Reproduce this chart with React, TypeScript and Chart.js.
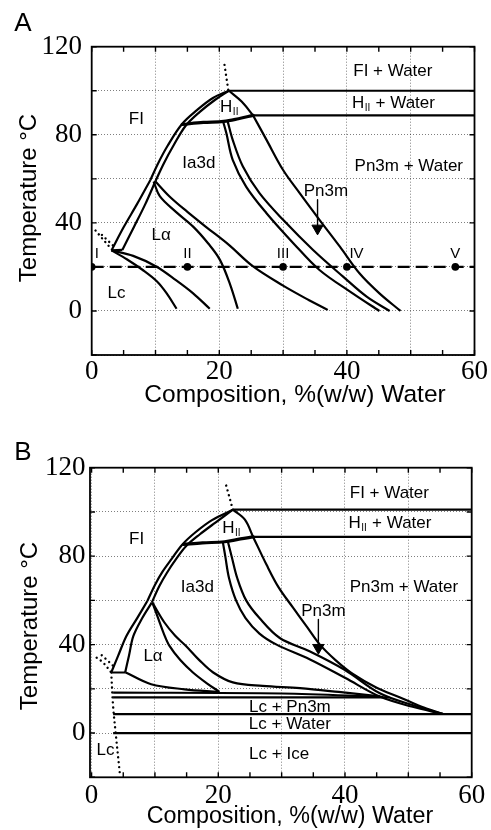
import React, { useEffect, useRef } from "react";
import { Chart, registerables } from "chart.js";

Chart.register(...registerables);

type Pt = [number, number];

// ---------- shared axes ----------
const X_GRID = [0, 10, 20, 30, 40, 50, 60];
const X_TICK_LABELS = [0, 20, 40, 60];
const X_MINOR_TICKS = [0, 5, 10, 15, 20, 25, 30, 35, 40, 45, 50, 55, 60];
const Y_GRID = [-20, 0, 20, 40, 60, 80, 100, 120];
const Y_TICK_LABELS = [0, 40, 80, 120];
const X_TITLE = "Composition, %(w/w) Water";
const Y_TITLE = "Temperature °C";

// ---------- Panel A ----------
const A_FI_WATER_TIE: Pt[] = [[21.5, 100], [60, 100]];
const A_HII_WATER_TIE: Pt[] = [[25.3, 88.8], [60, 88.8]];
const A_FI_BOUND_1: Pt[] = [[9.2, 59.5], [10.4, 67], [11.9, 75], [14.1, 84.7], [16.5, 91.2], [19, 96.7], [21.5, 100]];
const A_FI_BOUND_2: Pt[] = [[10.0, 59], [11.3, 67], [12.8, 75], [14.7, 84], [16.9, 90.3], [19.3, 95.8], [21.5, 100]];
const A_LA_LEFT_1: Pt[] = [[3.1, 27.5], [5.0, 38], [7.1, 48.5], [9.2, 59.5]];
const A_LA_LEFT_2: Pt[] = [[4.8, 27.7], [6.6, 38], [8.4, 48.5], [10.0, 59]];
const A_LA_BASE: Pt[] = [[3.1, 27.5], [4.8, 27.7]];
const A_IA3D_TOP: Pt[] = [[14.2, 84.7], [17.5, 85.6], [20.7, 86.1], [23, 87.3], [25.3, 88.8]];
const A_HII_EDGE: Pt[] = [[21.5, 100], [23.5, 95.1], [25.3, 88.8]];
const A_PN3M_EDGE: Pt[] = [[25.3, 88.8], [27.4, 77.7], [30, 64], [32.6, 53.5], [35.7, 41.4], [38.9, 29.2], [42, 17], [45.1, 8], [48.4, 0]];
const A_PN3M_IN_1: Pt[] = [[20.6, 86], [21.1, 80.8], [22.1, 68.6], [24.2, 56.5], [27.4, 44.4], [31.6, 30.8], [35.7, 18.6], [40.9, 8], [45.1, 0]];
const A_PN3M_IN_2: Pt[] = [[21.3, 86.2], [22.1, 77.7], [23.7, 65.6], [26.3, 53.5], [30, 41.4], [34.7, 27.7], [39.4, 15.6], [43.1, 6.5], [46.7, 0]];
const A_LA_IA3D_1: Pt[] = [[9.7, 58.8], [10.7, 52], [13.2, 45], [15.9, 38.3], [18.3, 30.5], [20.1, 23.2], [21.7, 12], [22.9, 1]];
const A_LA_IA3D_2: Pt[] = [[10.0, 58.8], [12.2, 52], [15, 45], [18, 38], [21.5, 30], [25.3, 20.2], [30, 11.5], [34, 5], [37, 0.5]];
const A_LC_1: Pt[] = [[3.1, 27.5], [5.5, 23.5], [8, 18.6], [10.2, 13.5], [11.7, 8.2], [13.3, 1]];
const A_LC_2: Pt[] = [[3.1, 27.5], [6.5, 25], [10.1, 20.2], [13.2, 14], [15.9, 8], [18.5, 1]];
const A_DOT_1: Pt[] = [[0.6, 36.5], [3.1, 28]];
const A_DOT_2: Pt[] = [[1.6, 34.5], [3.6, 29]];
const A_DOT_TOP: Pt[] = [[21.4, 100.5], [20.8, 112]];
const A_SAMPLE_LINE: Pt[] = [[0, 20], [60, 20]];
const A_SAMPLE_X = [0, 15, 30, 40, 57];
const A_SAMPLE_T = 20;
const A_SAMPLE_NAMES = ["I", "II", "III", "IV", "V"];
const A_SAMPLE_LABEL_X = [0.8, 15, 30, 41.5, 57];
const A_SAMPLE_LABEL_Y = 26;
const A_ARROW: Pt[] = [[35.4, 50.5], [35.4, 38.5]];
const A_ARROW_HEAD: Pt = [35.4, 37.5];

// ---------- Panel B ----------
const B_FI_WATER_TIE: Pt[] = [[22.3, 101], [60, 101]];
const B_HII_WATER_TIE: Pt[] = [[25.5, 88.7], [60, 88.7]];
const B_FI_BOUND_1: Pt[] = [[8.8, 59.7], [10.0, 67], [11.2, 73], [12.7, 79], [14.3, 85.2], [16.4, 90.8], [19, 96.3], [22.3, 101]];
const B_FI_BOUND_2: Pt[] = [[9.5, 59], [10.7, 66.5], [11.9, 72.5], [13.3, 78.5], [14.9, 84.5], [17.1, 89.9], [19.6, 95.3], [22.3, 101]];
const B_LA_LEFT_1: Pt[] = [[3.1, 27.4], [4.2, 35], [5.5, 43.9], [7.2, 52], [8.8, 59.7]];
const B_LA_LEFT_2: Pt[] = [[5.3, 27.4], [5.9, 35], [6.6, 43.9], [8.0, 52], [9.5, 59]];
const B_LA_BASE: Pt[] = [[3.1, 27.4], [5.4, 27.4]];
const B_LA_LOWER: Pt[] = [[5.4, 27.4], [9.4, 22.1], [14.7, 19.8], [20, 18.6]];
const B_IA3D_TOP: Pt[] = [[14.5, 85.3], [17.5, 86], [21, 86.5], [23.5, 87.8], [25.5, 88.7]];
const B_HII_EDGE: Pt[] = [[22.3, 101], [24.2, 96.5], [25.5, 88.7]];
const B_PN3M_EDGE: Pt[] = [[25.5, 88.7], [27.6, 76.2], [29.5, 66], [31.8, 56.7], [34, 48], [36, 40.1], [38.5, 33], [41.3, 26.6], [45, 20.5], [48.7, 16.1], [52, 12], [55.5, 8.6]];
const B_PN3M_IN_1: Pt[] = [[20.7, 86.7], [21.1, 80], [21.7, 70], [22.8, 60], [24.3, 52], [26.5, 45], [29.2, 40], [34.4, 33.4], [40, 25], [45.5, 16.5], [50.5, 12], [55.5, 8.6]];
const B_PN3M_IN_2: Pt[] = [[21.5, 86.7], [22.1, 80], [23, 70], [24.4, 60], [26.5, 52], [29.7, 43], [34.4, 37], [40, 28.5], [45.5, 18], [50.5, 12.8], [55.5, 8.6]];
const B_LA_IA3D_1: Pt[] = [[9.6, 59], [10.5, 52], [11.4, 45], [12.3, 39.4], [14, 33], [16, 27.4], [18.2, 22.5], [20.2, 18.6]];
const B_LA_IA3D_2: Pt[] = [[9.6, 59], [11.5, 50], [13.2, 44], [14.9, 39.4], [17, 33], [19.2, 27.4], [22.3, 22.9], [27, 21.3], [32.9, 20.3], [39, 18.6], [45.5, 16.6]];
const B_LC_PN3M_TOP: Pt[] = [[3.4, 18.3], [30, 17.9], [46, 16.3]];
const B_LC_PN3M_BOT: Pt[] = [[3.4, 16.1], [47, 16.1]];
const B_LC_WATER: Pt[] = [[3.4, 8.6], [60, 8.6]];
const B_LC_ICE: Pt[] = [[3.4, 0], [60, 0]];
const B_DOT_LC: Pt[] = [[3.1, 27.4], [3.4, 12], [3.8, 0], [4.5, -19.5]];
const B_DOT_1: Pt[] = [[0.8, 34.1], [1.8, 31.9], [3.1, 27.4]];
const B_DOT_2: Pt[] = [[1.6, 35.2], [2.6, 32.6], [3.4, 30.4]];
const B_DOT_TOP: Pt[] = [[22.3, 101], [21.1, 113.5]];
const B_ARROW: Pt[] = [[35.8, 51.4], [35.8, 40]];
const B_ARROW_HEAD: Pt = [35.8, 38.6];

type TextItem = { t: string; sub?: string; tail?: string; x: number; y: number };

const A_TEXTS: TextItem[] = [
  { t: "FI + Water", x: 47.2, y: 108.8 },
  { t: "H", sub: "II", tail: " + Water", x: 47.3, y: 94.5 },
  { t: "FI", x: 7.0, y: 87.2 },
  { t: "H", sub: "II", x: 21.6, y: 92.7 },
  { t: "Ia3d", x: 16.8, y: 67.1 },
  { t: "Pn3m + Water", x: 49.7, y: 65.6 },
  { t: "Pn3m", x: 36.7, y: 54.2 },
  { t: "Lα", x: 10.9, y: 34.5 },
  { t: "Lc", x: 3.9, y: 8 },
];

const B_TEXTS: TextItem[] = [
  { t: "FI + Water", x: 47.0, y: 108.6 },
  { t: "H", sub: "II", tail: " + Water", x: 47.1, y: 94.7 },
  { t: "FI", x: 7.1, y: 87.5 },
  { t: "H", sub: "II", x: 22.1, y: 92.8 },
  { t: "Ia3d", x: 16.7, y: 66.1 },
  { t: "Pn3m + Water", x: 49.3, y: 66.1 },
  { t: "Pn3m", x: 36.6, y: 55.2 },
  { t: "Lα", x: 9.7, y: 34.5 },
  { t: "Lc + Pn3m", x: 31.3, y: 11.6 },
  { t: "Lc + Water", x: 31.3, y: 4.1 },
  { t: "Lc + Ice", x: 29.6, y: -9.5 },
  { t: "Lc", x: 2.2, y: -7.8 },
];

type Kind = "line" | "thick" | "dot" | "dash" | "thin";

const SANS = '"Liberation Sans", Arial, Helvetica, sans-serif';
const SERIF = '"Liberation Serif", "Times New Roman", serif';

const STYLES: Record<Kind, any> = {
  line: { borderWidth: 2.2, borderDash: [], borderCapStyle: "butt" },
  thick: { borderWidth: 3.2, borderDash: [], borderCapStyle: "round" },
  thin: { borderWidth: 1.4, borderDash: [], borderCapStyle: "butt" },
  dot: { borderWidth: 2.4, borderDash: [0.01, 5], borderCapStyle: "round" },
  dash: { borderWidth: 2.2, borderDash: [12, 6], borderCapStyle: "butt" },
};

interface PanelSpec {
  letter: string;
  xMin: number;
  area: { left: number; top: number; right: number; bottom: number };
  lines: { pts: Pt[]; kind: Kind }[];
  markers: Pt[];
  arrowHead: Pt;
  texts: TextItem[];
  numerals: TextItem[];
  xTitle: { x: number; y: number; size: number };
  yTitle: { x: number; y: number; size: number };
  letterPos: { x: number; y: number };
  xTickPad: number;
  yTickPad: number;
}

const PANEL_A: PanelSpec = {
  letter: "A",
  xMin: 0,
  area: { left: 91.7, top: 46.7, right: 475, bottom: 355 },
  lines: [
    { pts: A_FI_WATER_TIE, kind: "line" },
    { pts: A_HII_WATER_TIE, kind: "line" },
    { pts: A_FI_BOUND_1, kind: "line" },
    { pts: A_FI_BOUND_2, kind: "line" },
    { pts: A_LA_LEFT_1, kind: "line" },
    { pts: A_LA_LEFT_2, kind: "line" },
    { pts: A_LA_BASE, kind: "line" },
    { pts: A_IA3D_TOP, kind: "thick" },
    { pts: A_HII_EDGE, kind: "line" },
    { pts: A_PN3M_EDGE, kind: "line" },
    { pts: A_PN3M_IN_1, kind: "line" },
    { pts: A_PN3M_IN_2, kind: "line" },
    { pts: A_LA_IA3D_1, kind: "line" },
    { pts: A_LA_IA3D_2, kind: "line" },
    { pts: A_LC_1, kind: "line" },
    { pts: A_LC_2, kind: "line" },
    { pts: A_DOT_1, kind: "dot" },
    { pts: A_DOT_2, kind: "dot" },
    { pts: A_DOT_TOP, kind: "dot" },
    { pts: A_SAMPLE_LINE, kind: "dash" },
    { pts: A_ARROW, kind: "thin" },
  ],
  markers: A_SAMPLE_X.map((x) => [x, A_SAMPLE_T] as Pt),
  arrowHead: A_ARROW_HEAD,
  texts: A_TEXTS,
  numerals: A_SAMPLE_NAMES.map((t, i) => ({ t, x: A_SAMPLE_LABEL_X[i], y: A_SAMPLE_LABEL_Y })),
  xTitle: { x: 295, y: 395, size: 24.5 },
  yTitle: { x: 29, y: 198, size: 24 },
  letterPos: { x: 23, y: 24 },
  xTickPad: 3,
  yTickPad: 9.7,
};

const PANEL_B: PanelSpec = {
  letter: "B",
  xMin: -0.25,
  area: { left: 90, top: 52.7, right: 471.7, bottom: 362.3 },
  lines: [
    { pts: B_FI_WATER_TIE, kind: "line" },
    { pts: B_HII_WATER_TIE, kind: "line" },
    { pts: B_FI_BOUND_1, kind: "line" },
    { pts: B_FI_BOUND_2, kind: "line" },
    { pts: B_LA_LEFT_1, kind: "line" },
    { pts: B_LA_LEFT_2, kind: "line" },
    { pts: B_LA_BASE, kind: "line" },
    { pts: B_LA_LOWER, kind: "line" },
    { pts: B_IA3D_TOP, kind: "thick" },
    { pts: B_HII_EDGE, kind: "line" },
    { pts: B_PN3M_EDGE, kind: "line" },
    { pts: B_PN3M_IN_1, kind: "line" },
    { pts: B_PN3M_IN_2, kind: "line" },
    { pts: B_LA_IA3D_1, kind: "line" },
    { pts: B_LA_IA3D_2, kind: "line" },
    { pts: B_LC_PN3M_TOP, kind: "line" },
    { pts: B_LC_PN3M_BOT, kind: "line" },
    { pts: B_LC_WATER, kind: "line" },
    { pts: B_LC_ICE, kind: "line" },
    { pts: B_DOT_LC, kind: "dot" },
    { pts: B_DOT_1, kind: "dot" },
    { pts: B_DOT_2, kind: "dot" },
    { pts: B_DOT_TOP, kind: "dot" },
    { pts: B_ARROW, kind: "thin" },
  ],
  markers: [],
  arrowHead: B_ARROW_HEAD,
  texts: B_TEXTS,
  numerals: [],
  xTitle: { x: 290, y: 401.7, size: 23.3 },
  yTitle: { x: 30, y: 211, size: 24 },
  letterPos: { x: 23, y: 38 },
  xTickPad: 5.5,
  yTickPad: 4.5,
};

function drawRich(ctx: CanvasRenderingContext2D, item: TextItem, px: number, py: number, size: number) {
  const main = `${size}px ${SANS}`;
  const small = `${Math.round(size * 0.6)}px ${SANS}`;
  ctx.font = main;
  const wMain = ctx.measureText(item.t).width;
  const wTail = item.tail ? ctx.measureText(item.tail).width : 0;
  ctx.font = small;
  const wSub = item.sub ? ctx.measureText(item.sub).width + 1 : 0;
  let x = px - (wMain + wSub + wTail) / 2;
  ctx.textAlign = "left";
  ctx.textBaseline = "middle";
  ctx.fillStyle = "#000";
  ctx.font = main;
  ctx.fillText(item.t, x, py);
  x += wMain;
  if (item.sub) {
    ctx.font = small;
    ctx.fillText(item.sub, x + 0.5, py + size * 0.3);
    x += wSub;
  }
  if (item.tail) {
    ctx.font = main;
    ctx.fillText(item.tail, x, py);
  }
}

function buildChart(canvas: HTMLCanvasElement, s: PanelSpec) {
  const W = canvas.width;
  const H = canvas.height;
  const datasets: any[] = s.lines.map((l) => ({
    data: l.pts.map(([x, y]) => ({ x, y })),
    showLine: true,
    pointRadius: 0,
    pointHoverRadius: 0,
    borderColor: "#000",
    backgroundColor: "#000",
    fill: false,
    tension: l.pts.length > 2 ? 0.35 : 0,
    borderJoinStyle: "round",
    ...STYLES[l.kind],
  }));
  if (s.markers.length) {
    datasets.push({
      data: s.markers.map(([x, y]) => ({ x, y })),
      showLine: false,
      pointRadius: 3.8,
      pointHoverRadius: 3.8,
      pointBackgroundColor: "#000",
      pointBorderWidth: 0,
    });
  }
  datasets.push({
    data: [{ x: s.arrowHead[0], y: s.arrowHead[1] }],
    showLine: false,
    pointStyle: "triangle",
    rotation: 180,
    pointRadius: 6.5,
    pointHoverRadius: 6.5,
    pointBackgroundColor: "#000",
    pointBorderColor: "#000",
    pointBorderWidth: 1,
  });

  const decor = {
    id: "decor",
    afterDatasetsDraw(chart: any) {
      const ctx: CanvasRenderingContext2D = chart.ctx;
      const { left, top, right, bottom } = chart.chartArea;
      const xs = chart.scales.x;
      const ys = chart.scales.y;
      ctx.save();
      s.texts.forEach((it) => drawRich(ctx, it, xs.getPixelForValue(it.x), ys.getPixelForValue(it.y), 17));
      s.numerals.forEach((it) => drawRich(ctx, it, xs.getPixelForValue(it.x), ys.getPixelForValue(it.y), 15));
      ctx.setLineDash([]);
      ctx.strokeStyle = "#000";
      ctx.lineWidth = 1.8;
      ctx.strokeRect(left, top, right - left, bottom - top);
      ctx.lineWidth = 1.4;
      ctx.beginPath();
      X_MINOR_TICKS.forEach((v) => {
        const px = xs.getPixelForValue(v);
        if (px < left - 0.5 || px > right + 0.5) return;
        ctx.moveTo(px, bottom);
        ctx.lineTo(px, bottom - 5);
        ctx.moveTo(px, top);
        ctx.lineTo(px, top + 5);
      });
      Y_GRID.forEach((v) => {
        const py = ys.getPixelForValue(v);
        ctx.moveTo(left, py);
        ctx.lineTo(left + 5, py);
        ctx.moveTo(right, py);
        ctx.lineTo(right - 5, py);
      });
      ctx.stroke();
      ctx.fillStyle = "#000";
      ctx.textAlign = "center";
      ctx.textBaseline = "middle";
      ctx.font = `${s.xTitle.size}px ${SANS}`;
      ctx.fillText(X_TITLE, s.xTitle.x, s.xTitle.y);
      ctx.save();
      ctx.translate(s.yTitle.x, s.yTitle.y);
      ctx.rotate(-Math.PI / 2);
      ctx.font = `${s.yTitle.size}px ${SANS}`;
      ctx.fillText(Y_TITLE, 0, 0);
      ctx.restore();
      ctx.font = `26px ${SANS}`;
      ctx.fillText(s.letter, s.letterPos.x, s.letterPos.y);
      ctx.restore();
    },
  };

  return new Chart(canvas, {
    type: "scatter",
    data: { datasets },
    options: {
      responsive: false,
      animation: false,
      events: [],
      layout: { padding: { left: 0, top: s.area.top, right: W - s.area.right, bottom: 0 } },
      plugins: { legend: { display: false }, tooltip: { enabled: false } },
      scales: {
        x: {
          type: "linear",
          min: s.xMin,
          max: 60,
          afterBuildTicks: (sc: any) => {
            sc.ticks = X_GRID.map((v) => ({ value: v }));
          },
          afterFit: (sc: any) => {
            sc.height = H - s.area.bottom;
          },
          grid: { color: "rgba(0,0,0,0.5)", lineWidth: 1, drawTicks: false },
          border: { display: false, dash: [1, 2] },
          ticks: {
            autoSkip: false,
            maxRotation: 0,
            padding: s.xTickPad,
            color: "#000",
            font: { family: SERIF, size: 27, lineHeight: 1 },
            callback: (v: any) => (X_TICK_LABELS.includes(Number(v)) ? String(v) : ""),
          },
        },
        y: {
          type: "linear",
          min: -20,
          max: 120,
          afterBuildTicks: (sc: any) => {
            sc.ticks = Y_GRID.map((v) => ({ value: v }));
          },
          afterFit: (sc: any) => {
            sc.width = s.area.left;
          },
          grid: { color: "rgba(0,0,0,0.5)", lineWidth: 1, drawTicks: false },
          border: { display: false, dash: [1, 2] },
          ticks: {
            autoSkip: false,
            padding: s.yTickPad,
            color: "#000",
            font: { family: SERIF, size: 27, lineHeight: 1 },
            callback: (v: any) => (Y_TICK_LABELS.includes(Number(v)) ? String(v) : ""),
          },
        },
      },
    } as any,
    plugins: [decor],
  });
}

function Panel({ spec }: { spec: PanelSpec }) {
  const ref = useRef<HTMLCanvasElement | null>(null);
  useEffect(() => {
    if (!ref.current) return;
    const chart = buildChart(ref.current, spec);
    return () => chart.destroy();
  }, [spec]);
  return <canvas ref={ref} width={491} height={415} style={{ display: "block", width: 491, height: 415 }} />;
}

export default function App() {
  return (
    <div style={{ position: "absolute", left: 0, top: 0, width: 491, height: 830, background: "#fff" }}>
      <Panel spec={PANEL_A} />
      <Panel spec={PANEL_B} />
    </div>
  );
}
